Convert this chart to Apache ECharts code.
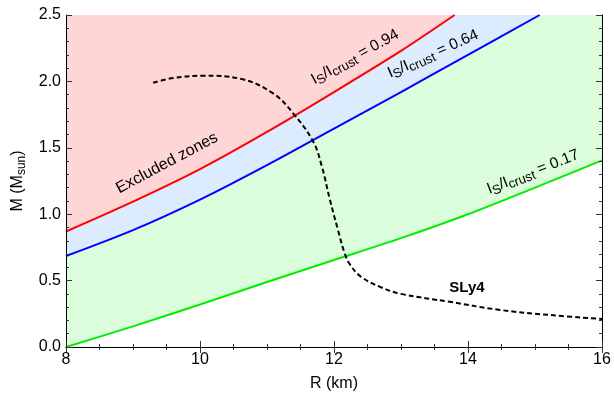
<!DOCTYPE html>
<html>
<head>
<meta charset="utf-8">
<script src="https://cdn.jsdelivr.net/npm/echarts@6/dist/echarts.min.js"></script>
<style>html,body{margin:0;padding:0;background:#fff}#c{width:614px;height:403px}</style>
</head>
<body>
<div id="c"></div>
<script>
// Constraint curves I_s/I_crust (R in km, M in Msun)
const redR = [8, 9, 10, 11, 12, 13, 13.8];
const redM = [0.87, 1.095, 1.34, 1.62, 1.92, 2.23, 2.5];
const blueR = [8, 9, 10, 11, 12, 13, 14, 15.07];
const blueM = [0.685, 0.88, 1.11, 1.37, 1.645, 1.92, 2.2, 2.5];
const greenR = [8, 9, 10, 11, 12, 13, 14, 15, 16];
const greenM = [0.0, 0.155, 0.32, 0.49, 0.655, 0.82, 1.0, 1.2, 1.405];
// SLy4 mass-radius relation
const slyR = [9.3, 9.6, 10.05, 10.6, 11.09, 11.39, 11.69, 11.82, 11.94, 12.06, 12.16, 12.24, 12.4, 12.7, 13.0, 13.73, 14.48, 15.22, 16.0];
const slyM = [1.99, 2.025, 2.043, 2.02, 1.91, 1.76, 1.546, 1.357, 1.107, 0.88, 0.705, 0.62, 0.53, 0.45, 0.40, 0.34, 0.279, 0.241, 0.211];
// Axes
const xTicks = [8, 10, 12, 14, 16];
const yTicks = [0.0, 0.5, 1.0, 1.5, 2.0, 2.5];
const labels = {
  excluded: 'Excluded zones',
  r094: '0.94', r064: '0.64', r017: '0.17',
  eos: 'SLy4'
};

const zip = (a, b) => a.map((v, i) => [v, b[i]]);
const FONT = 'Liberation Sans, Arial, Helvetica, sans-serif';

const chart = echarts.init(document.getElementById('c'), null, {renderer: 'canvas'});

const tickCommon = {
  axisLine: {show: true, lineStyle: {color: '#000', width: 1}},
  axisTick: {show: true, inside: true, length: 6, lineStyle: {color: '#333'}},
  splitLine: {show: false},
  z: 10
};

function ratioText(v, x, y, deg) {
  return {
    type: 'text', x: x, y: y, rotation: deg * Math.PI / 180, z: 20,
    style: {
      text: '{n|I}{s|S}{n|/I}{s|crust}{n| = ' + v + '}',
      align: 'center', verticalAlign: 'middle',
      rich: {
        n: {fontFamily: FONT, fontSize: 15.5, fill: '#000'},
        s: {fontFamily: FONT, fontSize: 13, fill: '#000', padding: [7, 0, 0, 0]}
      }
    }
  };
}

chart.setOption({
  animation: false,
  backgroundColor: '#fff',
  grid: {left: 66, right: 12, top: 15, bottom: 56},
  xAxis: [
    Object.assign({
      type: 'value', min: xTicks[0], max: xTicks[xTicks.length - 1], interval: 2, position: 'bottom',
      name: 'R (km)', nameLocation: 'middle', nameGap: 29,
      nameTextStyle: {fontFamily: FONT, fontSize: 16, color: '#000'},
      axisLabel: {fontFamily: FONT, fontSize: 16, color: '#000', margin: 5},
      minorTick: {show: true, splitNumber: 4, length: 3, lineStyle: {color: '#333'}}
    }, tickCommon),
    Object.assign({
      type: 'value', min: xTicks[0], max: xTicks[xTicks.length - 1], interval: 2, position: 'top',
      axisLabel: {show: false},
      minorTick: {show: true, splitNumber: 4, length: 3, lineStyle: {color: '#333'}}
    }, tickCommon)
  ],
  yAxis: [
    Object.assign({
      type: 'value', min: yTicks[0], max: yTicks[yTicks.length - 1], interval: 0.5, position: 'left',
      name: '{n|M (M}{s|sun}{n|)}', nameLocation: 'middle', nameGap: 37, nameRotate: 90,
      nameTextStyle: {
        rich: {
          n: {fontFamily: FONT, fontSize: 16, color: '#000'},
          s: {fontFamily: FONT, fontSize: 12, color: '#000', padding: [8, 0, 0, 0]}
        }
      },
      axisLabel: {fontFamily: FONT, fontSize: 16, color: '#000', margin: 5,
        formatter: v => v.toFixed(1)},
      minorTick: {show: true, splitNumber: 5, length: 3, lineStyle: {color: '#333'}}
    }, tickCommon),
    Object.assign({
      type: 'value', min: yTicks[0], max: yTicks[yTicks.length - 1], interval: 0.5, position: 'right',
      axisLabel: {show: false},
      minorTick: {show: true, splitNumber: 5, length: 3, lineStyle: {color: '#333'}}
    }, tickCommon)
  ],
  series: [
    {
      type: 'line', data: zip(greenR, greenM), smooth: 0.3, showSymbol: false, z: 2,
      lineStyle: {color: '#00ee00', width: 2},
      areaStyle: {origin: 'end', color: '#dcfddc', opacity: 1}
    },
    {
      type: 'line', data: zip(blueR, blueM), smooth: 0.3, showSymbol: false, z: 3,
      lineStyle: {color: '#0000ff', width: 2},
      areaStyle: {origin: 'end', color: '#dcebfd', opacity: 1}
    },
    {
      type: 'line', data: zip(redR, redM), smooth: 0.3, showSymbol: false, z: 4,
      lineStyle: {color: '#ff0000', width: 2},
      areaStyle: {origin: 'end', color: '#ffd6d6', opacity: 1}
    },
    {
      type: 'line', data: zip(slyR, slyM), smooth: 0.4, showSymbol: false, z: 5,
      lineStyle: {color: '#000', width: 2, type: [5, 3]}
    }
  ],
  graphic: [
    {
      type: 'text', x: 167, y: 163, rotation: 28 * Math.PI / 180, z: 20,
      style: {text: labels.excluded, fontFamily: FONT, fontSize: 16, fill: '#000', align: 'center', verticalAlign: 'middle'}
    },
    ratioText(labels.r094, 355, 57, 29),
    ratioText(labels.r064, 433, 54, 24),
    ratioText(labels.r017, 533, 172, 21.5),
    {
      type: 'text', x: 467, y: 288, z: 20,
      style: {text: labels.eos, fontFamily: FONT, fontSize: 15, fontWeight: 'bold', fill: '#000', align: 'center', verticalAlign: 'middle'}
    }
  ]
});
</script>
</body>
</html>
